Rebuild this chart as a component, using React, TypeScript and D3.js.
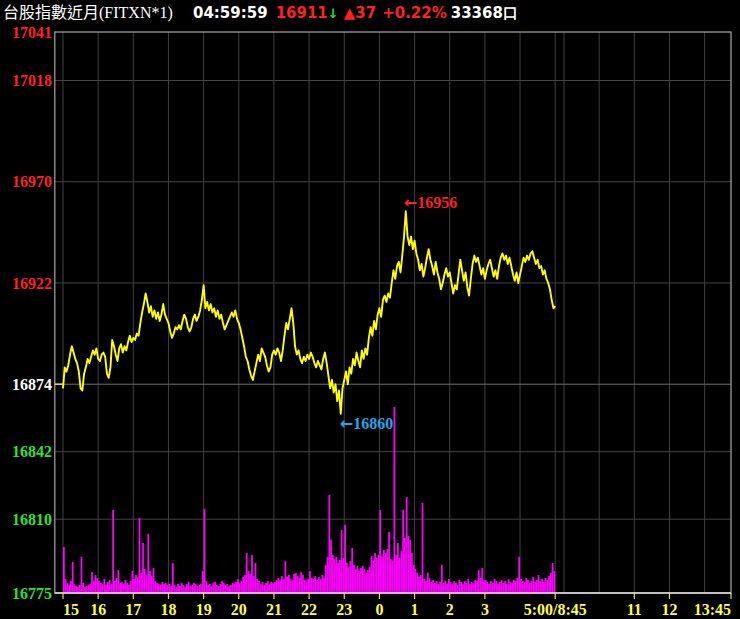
import { useMemo } from 'react';
import * as d3 from 'd3';

const WIDTH = 740;
const HEIGHT = 619;
const PLOT = { left: 55, top: 32, bottom: 593 };

// session clock: minutes after 15:00, night session 840 min, day session 8:45-13:45 appended
const PRE_OPEN = -14;
const SESSION_END = 1140;
const STEP = 3; // minutes per sample

const yTicks = [17041, 17018, 16970, 16922, 16874, 16842, 16810, 16775];
const refPrice = 16874;

const xTicks = [
  { label: '15', t: 0 },
  { label: '16', t: 60 },
  { label: '17', t: 120 },
  { label: '18', t: 180 },
  { label: '19', t: 240 },
  { label: '20', t: 300 },
  { label: '21', t: 360 },
  { label: '22', t: 420 },
  { label: '23', t: 480 },
  { label: '0', t: 540 },
  { label: '1', t: 600 },
  { label: '2', t: 660 },
  { label: '3', t: 720 },
  { label: '5:00/8:45', t: 840 },
  { label: '11', t: 975 },
  { label: '12', t: 1035 },
  { label: '13:45', t: 1140 },
];
const gridTimes = [0, 60, 120, 180, 240, 300, 360, 420, 480, 540, 600, 660, 720, 780, 840, 855, 915, 975, 1035, 1095];

// 3-minute closes, 15:00 -> 05:00
const prices = [
  16872, 16882, 16880, 16883, 16888, 16892, 16889, 16886, 16884, 16880, 16872, 16871, 16879, 16882, 16886, 16884, 16887, 16890, 16888, 16891,
  16886, 16885, 16888, 16889, 16887, 16879, 16877, 16882, 16895, 16892, 16888, 16885, 16891, 16893, 16889, 16892, 16890, 16894, 16897, 16894,
  16896, 16895, 16898, 16897, 16903, 16908, 16912, 16917, 16913, 16908, 16911, 16906, 16909, 16905, 16908, 16904, 16907, 16912, 16907, 16905,
  16903, 16899, 16896, 16898, 16901, 16900, 16902, 16900, 16904, 16907, 16905, 16901, 16899, 16901, 16905, 16907, 16904, 16906, 16909, 16914,
  16921, 16910, 16913, 16909, 16912, 16908, 16910, 16906, 16909, 16905, 16907, 16903, 16900, 16902, 16904, 16906, 16908, 16906, 16909, 16905,
  16903, 16900, 16896, 16892, 16887, 16885, 16881, 16878, 16876, 16880, 16884, 16888, 16885, 16891, 16889, 16887, 16883, 16880, 16882, 16888,
  16890, 16888, 16891, 16889, 16885, 16890, 16897, 16903, 16900, 16905, 16910, 16903, 16892, 16888, 16890, 16886, 16884, 16887, 16885, 16888,
  16886, 16889, 16887, 16884, 16882, 16885, 16883, 16881, 16886, 16889, 16884, 16878, 16872, 16876, 16870, 16874, 16866, 16871, 16860, 16872,
  16876, 16880, 16874, 16882, 16879, 16886, 16883, 16889, 16885, 16882, 16890, 16886, 16891, 16888, 16896, 16901, 16897, 16904, 16900, 16907,
  16910, 16906, 16914, 16916, 16913, 16917, 16915, 16922, 16928, 16924, 16930, 16932, 16927, 16935, 16944, 16956, 16944, 16940, 16944, 16938,
  16942, 16936, 16933, 16928, 16931, 16925, 16929, 16934, 16938, 16933, 16930, 16926, 16932, 16927, 16924, 16919, 16922, 16926, 16929, 16925,
  16927, 16922, 16917, 16921, 16919, 16926, 16933, 16928, 16923, 16927, 16920, 16916, 16924, 16931, 16935, 16932, 16934, 16930, 16926, 16929,
  16924, 16928, 16931, 16933, 16929, 16925, 16928, 16924, 16930, 16934, 16936, 16933, 16935, 16931, 16934, 16930, 16926, 16923, 16927, 16922,
  16926, 16930, 16934, 16932, 16935, 16933, 16936, 16937, 16934, 16931, 16933, 16929, 16930, 16926, 16928, 16924, 16922, 16919, 16914, 16910,
  16911,
];

// 3-minute volume
const volumes = [
  46, 14, 10, 8, 12, 31, 9, 7, 6, 8, 36, 10, 6, 7, 8, 9, 21, 12, 18, 15,
  12, 10, 9, 14, 8, 11, 13, 9, 83, 12, 15, 23, 10, 11, 9, 13, 10, 8, 12, 22,
  14, 18, 16, 75, 20, 50, 24, 18, 59, 22, 17, 25, 12, 10, 9, 8, 11, 9, 10, 8,
  9, 7, 30, 8, 6, 9, 7, 10, 8, 6, 9, 11, 7, 8, 10, 9, 7, 8, 9, 22,
  84, 12, 8, 9, 7, 10, 11, 8, 7, 9, 12, 10, 8, 9, 7, 8, 10, 9, 11, 14,
  10, 12, 16, 18, 40, 22, 19, 38, 17, 30, 14, 12, 9, 11, 8, 10, 12, 9, 11, 10,
  11, 13, 15, 12, 17, 14, 32, 16, 18, 14, 13, 19, 20, 17, 15, 21, 18, 13, 12, 14,
  22, 15, 14, 17, 13, 16, 14, 18, 15, 28, 36, 98, 53, 38, 34, 36, 30, 33, 63, 35,
  68, 30, 26, 32, 45, 28, 24, 27, 22, 25, 27, 24, 20, 23, 26, 37, 32, 40, 35, 38,
  83, 36, 43, 40, 44, 61, 34, 32, 186, 38, 50, 35, 42, 83, 55, 96, 57, 53, 40, 28,
  24, 20, 16, 18, 90, 14, 12, 20, 15, 11, 13, 10, 12, 9, 11, 28, 10, 12, 9, 14,
  11, 9, 12, 10, 8, 13, 11, 9, 12, 10, 14, 9, 11, 10, 13, 12, 23, 15, 25, 12,
  13, 11, 9, 12, 10, 14, 12, 9, 11, 13, 10, 12, 9, 14, 11, 10, 13, 12, 15, 36,
  14, 12, 11, 15, 13, 10, 12, 16, 11, 13, 18, 12, 14, 11, 15, 13, 17, 20, 30, 22,
];

const SERIF = '"Liberation Serif", "Times New Roman", serif';
const SANS = '"DejaVu Sans", Verdana, sans-serif';

export default function App() {
  const x = d3.scaleLinear().domain([0, SESSION_END]).range([63, 731]);
  const y = d3.scaleLinear().domain([16775, 17041]).range([PLOT.bottom, PLOT.top]);
  const yVol = d3.scaleLinear().domain([0, 190]).range([PLOT.bottom, PLOT.bottom - 190]);

  const left = x(PRE_OPEN);
  const right = x(SESSION_END);
  const barW = x(STEP) - x(0);

  const hiIdx = d3.maxIndex(prices);
  const loIdx = d3.minIndex(prices);

  const linePath = useMemo(() => {
    const line = d3
      .line<number>()
      .x((_, i) => x(i * STEP))
      .y((d) => y(d));
    return line(prices) ?? '';
  }, []);

  return (
    <svg
      width={WIDTH}
      height={HEIGHT}
      style={{ position: 'fixed', left: 0, top: 0, background: '#000' }}
    >
      <rect x={0} y={0} width={WIDTH} height={HEIGHT} fill="#000" />

      {/* header */}
      <text x={3} y={18} fill="#fff" fontSize={16} fontFamily={'"Liberation Serif", "Noto Sans CJK TC", serif'}>
        台股指數近月(FITXN*1)
      </text>
      <text y={18} fontSize={15} fontWeight={700} fontFamily={SANS}>
        <tspan x={193} fill="#fff">04:59:59</tspan>
        <tspan dx={8} fill="#ff2020">16911</tspan>
        <tspan fill="#20e020" fontSize={13}>↓</tspan>
        <tspan dx={5} fill="#ff2020">▲37</tspan>
        <tspan dx={6} fill="#ff2020">+0.22%</tspan>
        <tspan dx={4} fill="#fff">33368口</tspan>
      </text>

      {/* vertical grid */}
      {gridTimes.map((t) => (
        <line key={t} x1={x(t)} x2={x(t)} y1={PLOT.top} y2={PLOT.bottom} stroke="#404040" strokeWidth={1} />
      ))}

      {/* horizontal grid + labels */}
      {yTicks.map((v) => (
        <g key={v}>
          {v !== 16775 && v !== 17041 && (
            <line
              x1={left}
              x2={right}
              y1={y(v)}
              y2={y(v)}
              stroke={v === refPrice ? '#707070' : '#454545'}
              strokeWidth={1}
            />
          )}
          <text
            x={52}
            y={y(v)}
            dy="0.35em"
            textAnchor="end"
            fontSize={16}
            fontWeight={700}
            fontFamily={SERIF}
            fill={v > refPrice ? '#ff2020' : v === refPrice ? '#ffffff' : '#30e030'}
          >
            {v}
          </text>
        </g>
      ))}

      {/* frame */}
      <rect
        x={left}
        y={PLOT.top}
        width={right - left}
        height={PLOT.bottom - PLOT.top}
        fill="none"
        stroke="#a8a8a8"
        strokeWidth={1.2}
      />

      {/* volume */}
      {volumes.map((v, i) => (
        <rect
          key={i}
          x={x(i * STEP)}
          y={yVol(v)}
          width={barW}
          height={PLOT.bottom - yVol(v)}
          fill="#ff00ff"
        />
      ))}

      {/* pre-open reference */}
      <line x1={left} x2={x(0)} y1={y(refPrice)} y2={y(refPrice)} stroke="#d8d880" strokeWidth={1.5} />

      {/* price */}
      <path d={linePath} fill="none" stroke="#ffff00" strokeWidth={1.9} strokeLinejoin="round" />

      {/* high / low marks */}
      <text x={x(hiIdx * STEP) - 2} y={y(prices[hiIdx]) - 3} fontSize={16} fontWeight={700} fontFamily={SERIF} fill="#ff2020">
        <tspan fontFamily={SANS}>←</tspan>
        {prices[hiIdx]}
      </text>
      <text x={x(loIdx * STEP) - 1} y={y(prices[loIdx]) + 15} fontSize={16} fontWeight={700} fontFamily={SERIF} fill="#20a8ec">
        <tspan fontFamily={SANS}>←</tspan>
        {prices[loIdx]}
      </text>

      {/* bottom axis */}
      <line x1={left} x2={right} y1={PLOT.bottom} y2={PLOT.bottom} stroke="#e0e0e0" strokeWidth={1.5} />
      {xTicks.map((d, i) => (
        <g key={d.label}>
          <line x1={x(d.t)} x2={x(d.t)} y1={PLOT.bottom} y2={PLOT.bottom + 6} stroke="#e8e830" strokeWidth={1.2} />
          <text
            x={x(d.t)}
            y={615}
            textAnchor={i === 0 ? 'start' : i === xTicks.length - 1 ? 'end' : 'middle'}
            fontSize={16}
            fontWeight={700}
            fontFamily={SERIF}
            fill="#ffff40"
          >
            {d.label}
          </text>
        </g>
      ))}
    </svg>
  );
}
